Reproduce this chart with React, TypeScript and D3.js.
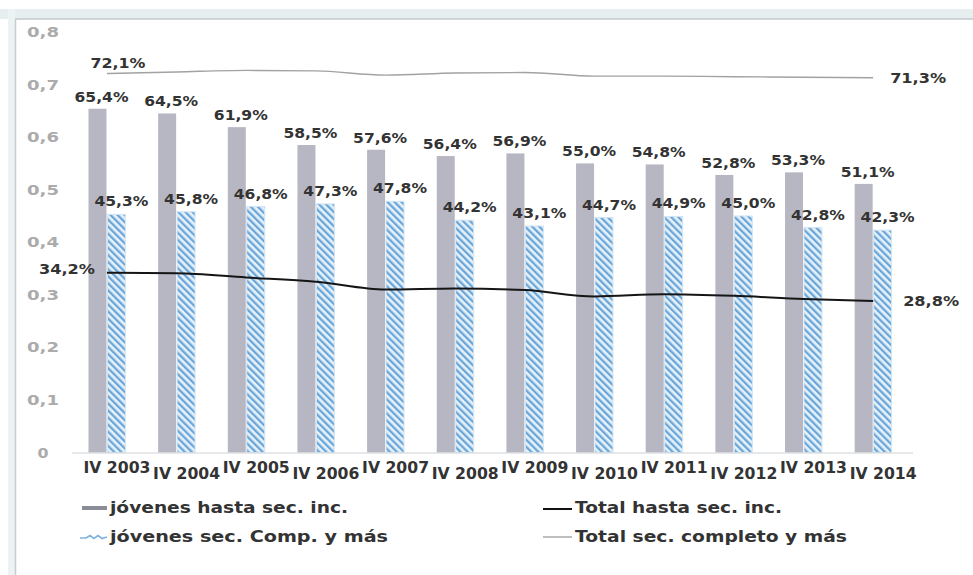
import React from "react";
import * as d3 from "d3";

const categories = ["IV 2003", "IV 2004", "IV 2005", "IV 2006", "IV 2007", "IV 2008", "IV 2009", "IV 2010", "IV 2011", "IV 2012", "IV 2013", "IV 2014"];
const jovenesHasta = [0.654, 0.645, 0.619, 0.585, 0.576, 0.564, 0.569, 0.550, 0.548, 0.528, 0.533, 0.511];
const jovenesComp = [0.453, 0.458, 0.468, 0.473, 0.478, 0.442, 0.431, 0.447, 0.449, 0.450, 0.428, 0.423];
const totalHasta = [0.342, 0.341, 0.333, 0.325, 0.310, 0.312, 0.309, 0.297, 0.301, 0.298, 0.292, 0.288];
const totalComp = [0.721, 0.724, 0.727, 0.726, 0.718, 0.722, 0.723, 0.716, 0.716, 0.715, 0.714, 0.713];
const yTicks = [0, 0.1, 0.2, 0.3, 0.4, 0.5, 0.6, 0.7, 0.8];
const legendLabels = ["jóvenes hasta sec. inc.", "jóvenes sec. Comp. y más", "Total hasta sec. inc.", "Total sec. completo y más"];

const W = 973;
const H = 575;
const fmt = (v: number) => (v * 100).toFixed(1).replace(".", ",") + "%";
const tickFmt = (v: number) => (v === 0 ? "0" : v.toFixed(1).replace(".", ","));

const LABEL_FONT = "'DejaVu Sans', sans-serif";
const stretch = { lengthAdjust: "spacingAndGlyphs" as const };

export default function App() {
  const x = d3.scaleBand<string>().domain(categories).range([72.2, 907.9]).paddingInner(0.47).paddingOuter(0.234);
  const sub = d3.scaleBand<string>().domain(["g", "b"]).range([0, x.bandwidth()]).paddingInner(0.05);
  const y = d3.scaleLinear().domain([0, 0.8]).range([452.5, 32]);
  const cx = (c: string) => (x(c) as number) + x.bandwidth() / 2;

  const line = d3
    .line<number>()
    .x((_, i) => cx(categories[i]))
    .y((d) => y(d))
    .curve(d3.curveMonotoneX);

  const first = categories[0];
  const last = categories[categories.length - 1];

  return (
    <svg width={W} height={H} style={{ position: "absolute", left: 0, top: 0, background: "#fff" }}>
      <defs>
        <pattern id="hatch" patternUnits="userSpaceOnUse" width="5" height="5" patternTransform="rotate(-45)">
          <rect width="5" height="5" fill="#e6f1fa" />
          <rect x="0" y="0" width="2.3" height="5" fill="#6aa6d8" />
        </pattern>
      </defs>
      {/* frame */}
      <rect x={0} y={9} width={W} height={10} fill="#e7eef0" />
      <rect x={8} y={9} width={7} height={H - 9} fill="#edf2f3" />
      <line x1={15} x2={W} y1={19} y2={19} stroke="#c4c9cc" strokeWidth={1.5} />
      <line x1={15.5} x2={15.5} y1={19} y2={H} stroke="#c8cdd0" strokeWidth={1.5} />

      {/* y ticks */}
      {yTicks.map((t) => (
        <text key={t} x={43} y={y(t) + 5} textAnchor="middle" fontFamily={LABEL_FONT} fontWeight="bold" fontSize={14} fill="#ababab" textLength={t === 0 ? 11 : 32} {...stretch}>
          {tickFmt(t)}
        </text>
      ))}

      {/* bars */}
      {categories.map((c, i) => (
        <g key={c}>
          <rect x={(x(c) as number) + (sub("g") as number)} y={y(jovenesHasta[i])} width={sub.bandwidth()} height={y(0) - y(jovenesHasta[i])} fill="#b6b7c3" />
          <rect x={(x(c) as number) + (sub("b") as number)} y={y(jovenesComp[i])} width={sub.bandwidth()} height={y(0) - y(jovenesComp[i])} fill="url(#hatch)" stroke="#d3e5f3" strokeWidth={1} />
        </g>
      ))}

      {/* baseline */}
      <line x1={72} x2={913} y1={y(0) + 0.5} y2={y(0) + 0.5} stroke="#cfd2d6" strokeWidth={1.2} />

      {/* lines */}
      <path d={line(totalComp) || ""} fill="none" stroke="#a2a2a2" strokeWidth={1.4} />
      <path d={line(totalHasta) || ""} fill="none" stroke="#151515" strokeWidth={2} />

      {/* data labels */}
      {categories.map((c, i) => (
        <g key={"l" + c} fontFamily={LABEL_FONT} fontWeight="bold" fontSize={14.5} fill="#333">
          <text x={(x(c) as number) + (sub("g") as number) + sub.bandwidth() / 2 + 4} y={y(jovenesHasta[i]) - 7} textAnchor="middle" textLength={54} {...stretch}>
            {fmt(jovenesHasta[i])}
          </text>
          <text x={(x(c) as number) + (sub("b") as number) + sub.bandwidth() / 2 + 5} y={y(jovenesComp[i]) - 8} textAnchor="middle" textLength={54} {...stretch}>
            {fmt(jovenesComp[i])}
          </text>
        </g>
      ))}

      <g fontFamily={LABEL_FONT} fontWeight="bold" fontSize={14.5} fill="#333">
        <text x={cx(first) + 11} y={y(totalComp[0]) - 6} textAnchor="middle" textLength={55} {...stretch}>{fmt(totalComp[0])}</text>
        <text x={cx(last) + 17} y={y(totalComp[totalComp.length - 1]) + 5} textLength={56} {...stretch}>{fmt(totalComp[totalComp.length - 1])}</text>
        <text x={cx(first) - 12} y={y(totalHasta[0]) + 1} textAnchor="end" textLength={56} {...stretch}>{fmt(totalHasta[0])}</text>
        <text x={cx(last) + 30} y={y(totalHasta[totalHasta.length - 1]) + 5} textLength={56} {...stretch}>{fmt(totalHasta[totalHasta.length - 1])}</text>
      </g>

      {/* x labels */}
      {categories.map((c, i) => (
        <text key={"x" + c} x={cx(c) + 10} y={i % 2 === 0 ? 473 : 479} textAnchor="middle" fontFamily={LABEL_FONT} fontWeight="bold" fontSize={15} fill="#333" textLength={67} {...stretch}>
          {c}
        </text>
      ))}

      {/* legend */}
      <g fontFamily={LABEL_FONT} fontWeight="bold" fontSize={15.5} fill="#333">
        <line x1={82} x2={107} y1={508} y2={508} stroke="#8a8c98" strokeWidth={4} />
        <text x={110} y={513} textLength={238} {...stretch}>{legendLabels[0]}</text>
        <path d="M80,538 L86,538 L90,535.5 L94,538.5 L98,535.5 L102,538.5 L107,537" fill="none" stroke="#7fb2dc" strokeWidth={1.6} />
        <text x={110} y={542} textLength={278} {...stretch}>{legendLabels[1]}</text>
        <line x1={543} x2={572} y1={509} y2={509} stroke="#111" strokeWidth={2} />
        <text x={575} y={513} textLength={207} {...stretch}>{legendLabels[2]}</text>
        <line x1={543} x2={572} y1={537} y2={537} stroke="#a8a8a8" strokeWidth={1.5} />
        <text x={575} y={542} textLength={272} {...stretch}>{legendLabels[3]}</text>
      </g>
    </svg>
  );
}
